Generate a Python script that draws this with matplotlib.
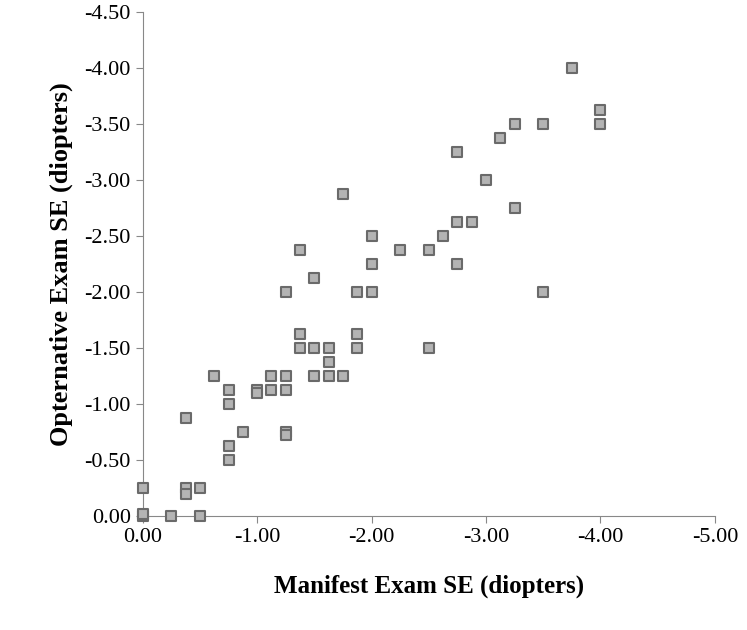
import matplotlib

matplotlib.use("Agg")
import matplotlib.pyplot as plt

# manifest SE (x) vs operative SE (y), diopters
manifest = [0, 0, 0, -0.25, -0.5, -0.375, -0.375, -0.5, -0.375, -0.625,
            -0.75, -0.75, -0.75, -0.75, -0.875, -1.0, -1.0, -1.125, -1.125,
            -1.25, -1.25, -1.25, -1.25, -1.25, -1.375, -1.375, -1.375, -1.5,
            -1.5, -1.5, -1.625, -1.625, -1.625, -1.75, -1.75, -1.875, -1.875,
            -1.875, -2.0, -2.0, -2.0, -2.25, -2.5, -2.5, -2.625, -2.75, -2.75,
            -2.75, -2.875, -3.0, -3.125, -3.25, -3.25, -3.5, -3.5, -3.75,
            -4.0, -4.0]
operative = [-0.25, 0, -0.02, 0, 0, -0.25, -0.2, -0.25, -0.875, -1.25,
             -1.125, -1.0, -0.625, -0.5, -0.75, -1.125, -1.1, -1.125, -1.25,
             -1.25, -1.125, -2.0, -0.75, -0.72, -2.375, -1.625, -1.5, -2.125,
             -1.5, -1.25, -1.5, -1.25, -1.375, -1.25, -2.875, -2.0, -1.625,
             -1.5, -2.5, -2.25, -2.0, -2.375, -2.375, -1.5, -2.5, -3.25,
             -2.625, -2.25, -2.625, -3.0, -3.375, -3.5, -2.75, -3.5, -2.0,
             -4.0, -3.625, -3.5]

x_ticks = [0, -1, -2, -3, -4, -5]
y_ticks = [0, -0.5, -1, -1.5, -2, -2.5, -3, -3.5, -4, -4.5]

plt.rcParams["font.family"] = "Liberation Serif"

fig = plt.figure(figsize=(7.47, 6.30), dpi=100)
ax = fig.add_axes([0.191, 0.181, 0.766, 0.8])

ax.scatter(manifest, operative, marker="s", s=60, color="#b4b4b4",
           edgecolor="#6a6a6a", linewidth=1.5, zorder=3, clip_on=False)

ax.set_xlim(0, -5)
ax.set_ylim(0, -4.5)
ax.set_xticks(x_ticks)
ax.set_yticks(y_ticks)
ax.set_xticklabels([f"{v:.2f}" for v in x_ticks], fontsize=16)
ax.set_yticklabels([f"{v:.2f}" for v in y_ticks], fontsize=16)
ax.tick_params(color="#888888", length=5)
for s in ["top", "right"]:
    ax.spines[s].set_visible(False)
for s in ["left", "bottom"]:
    ax.spines[s].set_color("#888888")

ax.set_xlabel("Manifest Exam SE (diopters)", fontsize=18, fontweight="bold", labelpad=20)
ax.set_ylabel("Opternative Exam SE (diopters)", fontsize=19, fontweight="bold", labelpad=8)

fig.savefig("out.png", dpi=100)
